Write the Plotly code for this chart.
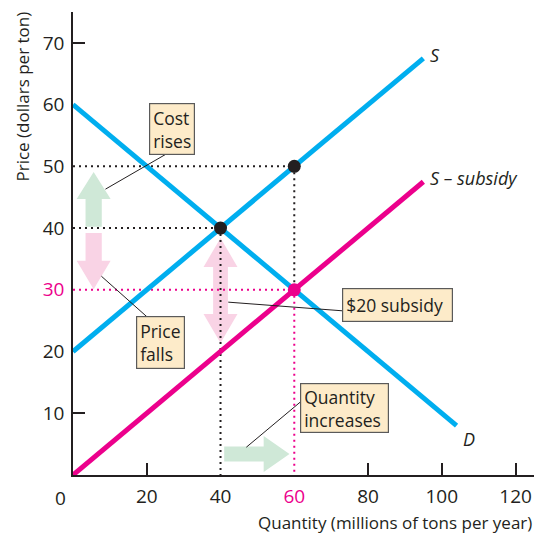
import plotly.graph_objects as go

# ---------------- data ----------------
demand_q = [0, 104]
demand_p = [60, 8]
supply_q = [0, 95]
supply_p = [20, 67.5]
subsidy_supply_q = [0, 95]
subsidy_supply_p = [0, 47.5]

eq_before = (40, 40)        # equilibrium before subsidy
eq_after = (60, 30)         # equilibrium with subsidy
seller_price = (60, 50)     # price received by producers incl. subsidy

x_ticks = [20, 40, 60, 80, 100, 120]
y_ticks = [10, 20, 30, 40, 50, 60, 70]
highlight_x = 60
highlight_y = 30

BLUE = "#00AEEF"
PINK = "#EC008C"
DARK = "#231F20"
BOX_FILL = "#FDEBC9"
BOX_LINE = "#5A5A5A"
GREEN_ARROW = "#CFE8D7"
PINK_ARROW = "#F9D3E5"
FONT = "Open Sans"

fig = go.Figure()

# dotted guide lines
def dotted(xs, ys, color):
    fig.add_trace(go.Scatter(x=xs, y=ys, mode="lines",
                             line=dict(color=color, width=2, dash="2px,4px"),
                             hoverinfo="skip", showlegend=False))

dotted([0, seller_price[0]], [seller_price[1], seller_price[1]], DARK)
dotted([seller_price[0], seller_price[0]], [seller_price[1], eq_after[1]], DARK)
dotted([0, eq_before[0]], [eq_before[1], eq_before[1]], DARK)
dotted([eq_before[0], eq_before[0]], [eq_before[1], 0], DARK)
dotted([0, eq_after[0]], [eq_after[1], eq_after[1]], PINK)
dotted([eq_after[0], eq_after[0]], [eq_after[1], 0], PINK)

# curves
fig.add_trace(go.Scatter(x=demand_q, y=demand_p, mode="lines",
                         line=dict(color=BLUE, width=5), showlegend=False))
fig.add_trace(go.Scatter(x=supply_q, y=supply_p, mode="lines",
                         line=dict(color=BLUE, width=5), showlegend=False))
fig.add_trace(go.Scatter(x=subsidy_supply_q, y=subsidy_supply_p, mode="lines",
                         line=dict(color=PINK, width=5), showlegend=False))

# points
fig.add_trace(go.Scatter(x=[eq_before[0], seller_price[0]], y=[eq_before[1], seller_price[1]],
                         mode="markers", marker=dict(color=DARK, size=13),
                         showlegend=False))
fig.add_trace(go.Scatter(x=[eq_after[0]], y=[eq_after[1]], mode="markers",
                         marker=dict(color=PINK, size=13), showlegend=False))

# ---------------- fat arrows (shapes) ----------------
def poly(pts):
    return "M " + " L ".join(f"{x},{y}" for x, y in pts) + " Z"

def v_arrow(xc, y0, y1, bw, hw, hl):
    s = 1 if y1 > y0 else -1
    yb = y1 - s * hl
    return poly([(xc - bw, y0), (xc - bw, yb), (xc - hw, yb), (xc, y1),
                 (xc + hw, yb), (xc + bw, yb), (xc + bw, y0)])

def v_double(xc, y0, y1, bw, hw, hl):
    return poly([(xc, y0), (xc + hw, y0 + hl), (xc + bw, y0 + hl), (xc + bw, y1 - hl),
                 (xc + hw, y1 - hl), (xc, y1), (xc - hw, y1 - hl), (xc - bw, y1 - hl),
                 (xc - bw, y0 + hl), (xc - hw, y0 + hl)])

def h_arrow(yc, x0, x1, bw, hw, hl):
    xb = x1 - hl
    return poly([(x0, yc - bw), (xb, yc - bw), (xb, yc - hw), (x1, yc),
                 (xb, yc + hw), (xb, yc + bw), (x0, yc + bw)])

shapes = []
def add_path(path, color):
    shapes.append(dict(type="path", path=path, xref="x", yref="y",
                       fillcolor=color, line=dict(width=0), layer="below"))

add_path(v_arrow(5.6, 40.2, 49.1, 2.2, 4.6, 4.4), GREEN_ARROW)
add_path(v_arrow(5.6, 39.2, 30.1, 2.2, 4.6, 4.6), PINK_ARROW)
add_path(v_double(eq_before[0], 21.4, 38.4, 2.0, 4.6, 4.7), PINK_ARROW)
add_path(h_arrow(3.4, 41.0, 58.7, 1.2, 2.9, 7.0), GREEN_ARROW)

# leader lines
def leader(x0, y0, x1, y1):
    shapes.append(dict(type="line", x0=x0, y0=y0, x1=x1, y1=y1, xref="x", yref="y",
                       line=dict(color=DARK, width=1), layer="above"))

leader(8.8, 46.3, 25.3, 52.0)
leader(7.7, 32.2, 20.1, 25.6)
leader(42.1, 28.0, 73.0, 26.6)
leader(47.0, 4.5, 61.6, 11.8)

# ---------------- annotations ----------------
annotations = []
def box(text, x, y, w, h):
    annotations.append(dict(text=text, x=x, y=y, xref="x", yref="y", showarrow=False,
                            align="left", bgcolor=BOX_FILL, bordercolor=BOX_LINE,
                            borderwidth=1.2, borderpad=3, width=w, height=h,
                            font=dict(family=FONT, size=17.5, color=DARK)))

box("Cost<br>rises", 26.8, 56.1, 38, 44)
box("Price<br>falls", 23.7, 21.4, 41, 45)
box("$20 subsidy", 87.9, 27.6, 103, 26)
box("Quantity<br>increases", 73.5, 10.8, 81, 42)

def curve_label(text, x, y, xs=5, ys=0):
    annotations.append(dict(text=f"<i>{text}</i>", x=x, y=y, xref="x", yref="y",
                            showarrow=False, xanchor="left", yanchor="middle",
                            xshift=xs, yshift=ys,
                            font=dict(family=FONT, size=18, color=DARK)))

curve_label("S", supply_q[-1], supply_p[-1], 5, 3)
curve_label("S – subsidy", subsidy_supply_q[-1], subsidy_supply_p[-1], 5, 4)
curve_label("D", demand_q[-1], demand_p[-1], 4, -13)

annotations.append(dict(text="0", x=0, y=0, xref="x", yref="y", showarrow=False,
                        xshift=-13, yshift=-23,
                        font=dict(family=FONT, size=19, color=DARK)))
annotations.append(dict(text="Price (dollars per ton)", x=0, y=0.8175, xref="paper",
                        yref="paper", showarrow=False, textangle=-90, xshift=-51,
                        xanchor="center", yanchor="middle",
                        font=dict(family=FONT, size=17, color=DARK)))
annotations.append(dict(text="Quantity (millions of tons per year)", x=1, y=0,
                        xref="paper", yref="paper", showarrow=False,
                        xanchor="right", yanchor="middle", yshift=-47,
                        font=dict(family=FONT, size=17, color=DARK)))

def tick_text(vals, hl):
    return [f"<span style='color:{PINK}'>{v}</span>" if v == hl else str(v) for v in vals]

fig.update_layout(
    width=536, height=534,
    margin=dict(l=73, r=2, t=12, b=59),
    paper_bgcolor="white", plot_bgcolor="white",
    showlegend=False,
    shapes=shapes, annotations=annotations,
    font=dict(family=FONT, color=DARK),
    xaxis=dict(range=[0, 125], showgrid=False, zeroline=False,
               showline=True, linecolor=DARK, linewidth=1.5,
               tickmode="array", tickvals=x_ticks, ticktext=tick_text(x_ticks, highlight_x),
               ticks="", ticklabelstandoff=3, tickfont=dict(family=FONT, size=19, color=DARK),
               minor=dict(tickmode="array", tickvals=[20, 80, 100, 120], ticks="inside",
                          ticklen=12, tickwidth=1.5, tickcolor=DARK, showgrid=False)),
    yaxis=dict(range=[0, 75], showgrid=False, zeroline=False,
               showline=True, linecolor=DARK, linewidth=1.5,
               tickmode="array", tickvals=y_ticks, ticktext=tick_text(y_ticks, highlight_y),
               ticks="", ticklabelstandoff=3, tickfont=dict(family=FONT, size=19, color=DARK),
               minor=dict(tickmode="array", tickvals=[10, 70], ticks="inside",
                          ticklen=12, tickwidth=1.5, tickcolor=DARK, showgrid=False)),
)

fig.write_html("out.html", config={"displayModeBar": False},
               post_script="document.body.style.margin='0px';")
